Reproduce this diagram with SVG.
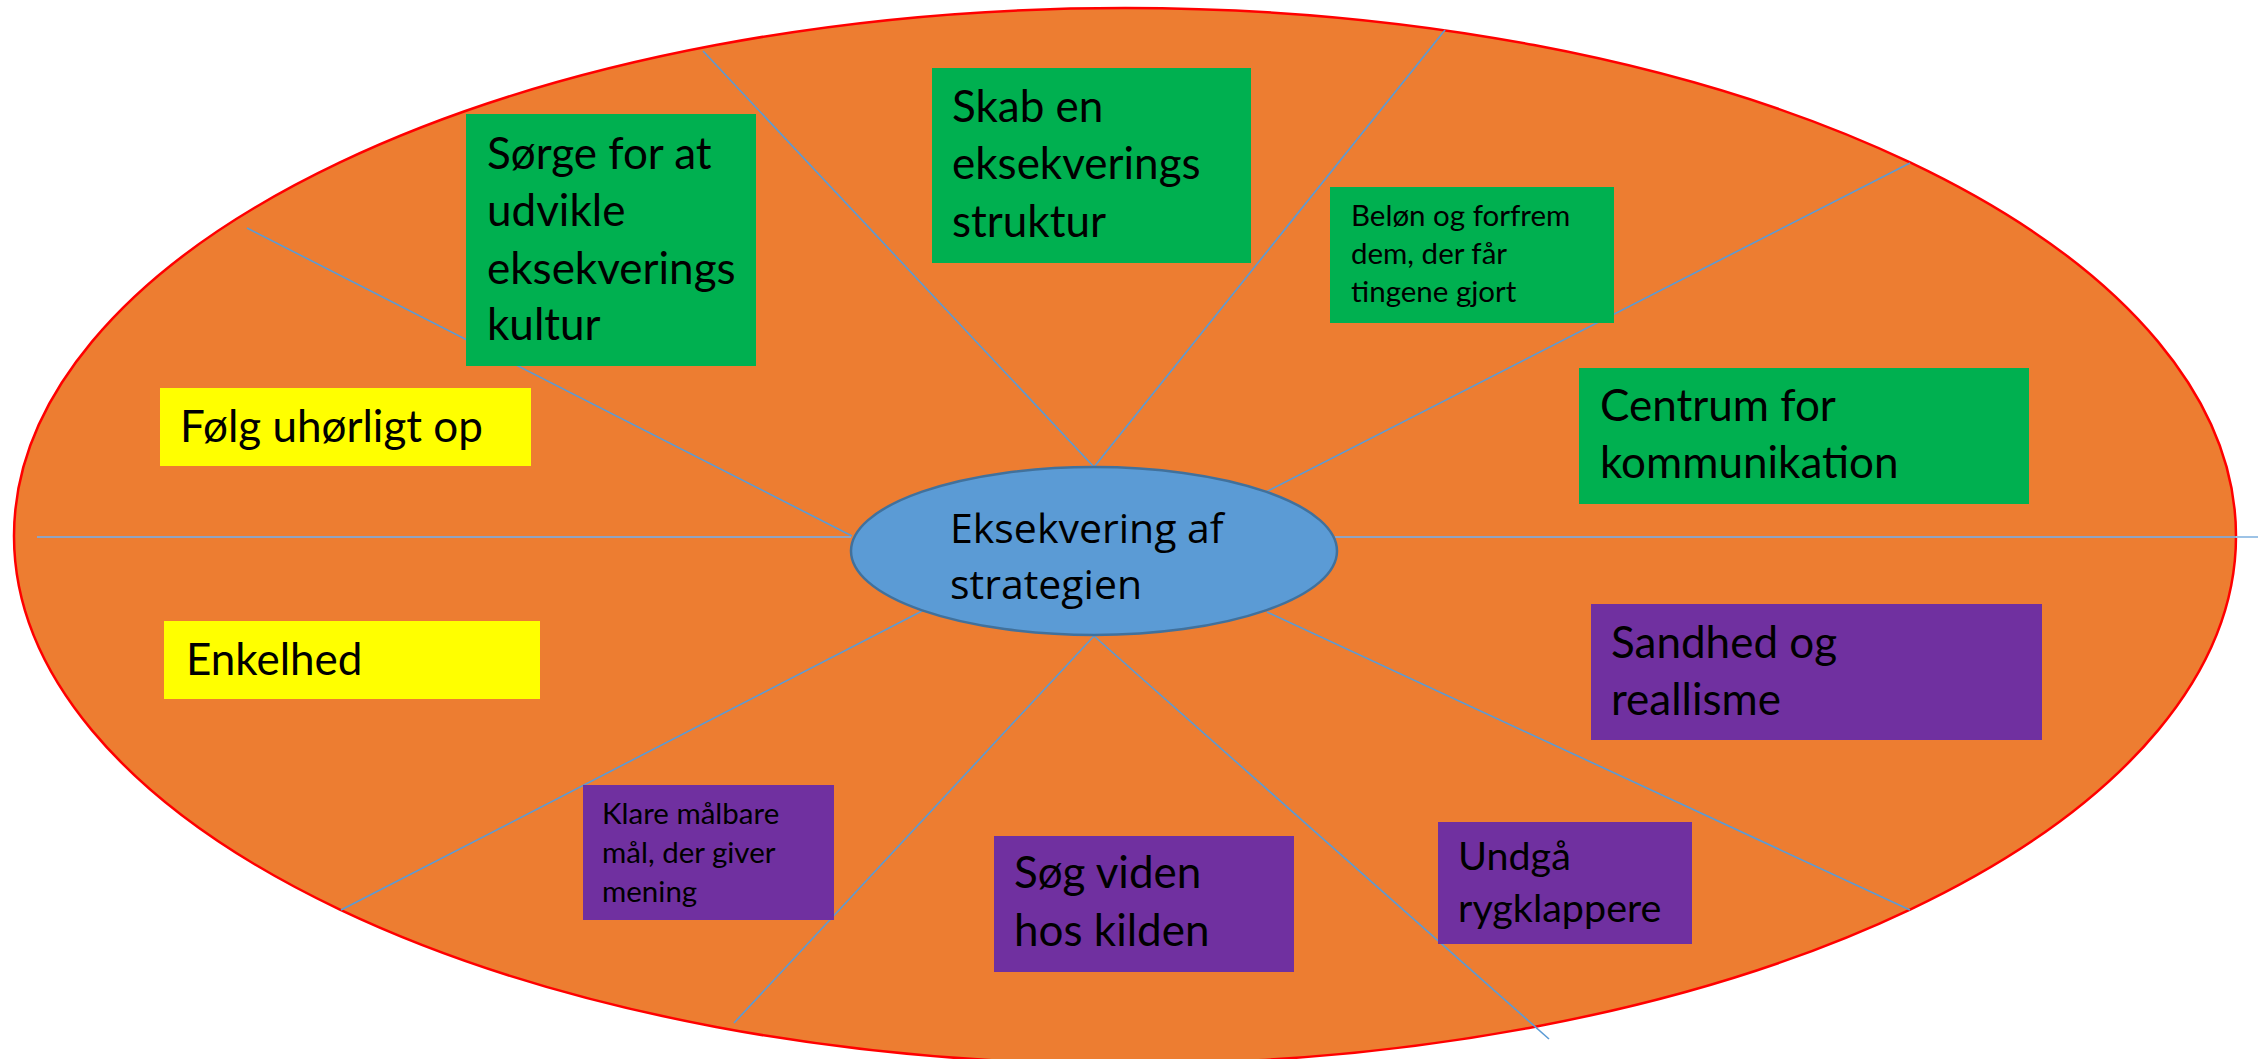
<svg xmlns="http://www.w3.org/2000/svg" width="2262" height="1059" viewBox="0 0 2262 1059">
<style>
.t{font-family:Lato,"Liberation Sans",sans-serif;fill:#000}
.big{font-size:44px}
.mid{font-size:39.5px}
.sm{font-size:29.5px}
.sp{stroke:#5B9BD5;stroke-width:1.6;fill:none}
.hz{stroke:#8FA3C2;stroke-width:2.2;fill:none}
.g{fill:#00B050}.y{fill:#FFFF00}.p{fill:#7030A0}
</style>
<rect width="2262" height="1059" fill="#fff"/>
<ellipse id="outer" cx="1125" cy="536" rx="1111" ry="528" fill="#ED7D31" stroke="#FF0000" stroke-width="2.5"/>
<g id="connectors">
<line class="sp" x1="1094" y1="467" x2="703" y2="51"/>
<line class="sp" x1="1094" y1="467" x2="1445" y2="30"/>
<line class="sp" x1="1266" y1="492" x2="1910" y2="163"/>
<line class="hz" x1="1335" y1="537" x2="2236" y2="537"/>
<line x1="2236" y1="537" x2="2258" y2="537" stroke="#9DC3E6" stroke-width="2"/>
<line class="sp" x1="1267" y1="612" x2="1910" y2="910"/>
<line class="sp" x1="1094" y1="636" x2="1549" y2="1039"/>
<line class="sp" x1="1094" y1="636" x2="734" y2="1023"/>
<line class="sp" x1="922" y1="611" x2="341" y2="910"/>
<line class="hz" x1="37" y1="537" x2="851" y2="537"/>
<line class="sp" x1="247" y1="228" x2="852" y2="536"/>
</g>
<g id="center">
<ellipse cx="1094" cy="551" rx="243" ry="84" fill="#5B9BD5" stroke="#41719C" stroke-width="2.5"/>
<text font-family="'Open Sans',sans-serif" font-size="41" fill="#000"><tspan x="950" y="543">Eksekvering af</tspan><tspan x="950" y="599">strategien</tspan></text>
</g>
<g id="n-sorge">
<rect class="g" x="466" y="114" width="290" height="252"/>
<text class="t big"><tspan x="487" y="169">Sørge for at</tspan><tspan x="487" y="226">udvikle</tspan><tspan x="487" y="284">eksekverings</tspan><tspan x="487" y="340">kultur</tspan></text>
</g>
<g id="n-skab">
<rect class="g" x="932" y="68" width="319" height="195"/>
<text class="t big"><tspan x="952" y="122">Skab en</tspan><tspan x="952" y="179">eksekverings</tspan><tspan x="952" y="237">struktur</tspan></text>
</g>
<g id="n-belon">
<rect class="g" x="1330" y="187" width="284" height="136"/>
<text class="t sm"><tspan x="1351" y="226">Beløn og forfrem</tspan><tspan x="1351" y="264">dem, der får</tspan><tspan x="1351" y="302">tingene gjort</tspan></text>
</g>
<g id="n-centrum">
<rect class="g" x="1579" y="368" width="450" height="136"/>
<text class="t big"><tspan x="1600" y="421">Centrum for</tspan><tspan x="1600" y="478">kommunikation</tspan></text>
</g>
<g id="n-folg">
<rect class="y" x="160" y="388" width="371" height="78"/>
<text class="t big" x="180" y="442">Følg uhørligt op</text>
</g>
<g id="n-enkelhed">
<rect class="y" x="164" y="621" width="376" height="78"/>
<text class="t big" x="186" y="675">Enkelhed</text>
</g>
<g id="n-klare">
<rect class="p" x="583" y="785" width="251" height="135"/>
<text class="t sm"><tspan x="602" y="824">Klare målbare</tspan><tspan x="602" y="863">mål, der giver</tspan><tspan x="602" y="902">mening</tspan></text>
</g>
<g id="n-sog">
<rect class="p" x="994" y="836" width="300" height="136"/>
<text class="t big"><tspan x="1014" y="888">Søg viden</tspan><tspan x="1014" y="946">hos kilden</tspan></text>
</g>
<g id="n-sandhed">
<rect class="p" x="1591" y="604" width="451" height="136"/>
<text class="t big"><tspan x="1611" y="658">Sandhed og</tspan><tspan x="1611" y="715">reallisme</tspan></text>
</g>
<g id="n-undga">
<rect class="p" x="1438" y="822" width="254" height="122"/>
<text class="t mid"><tspan x="1458" y="870">Undgå</tspan><tspan x="1458" y="922">rygklappere</tspan></text>
</g>
</svg>
